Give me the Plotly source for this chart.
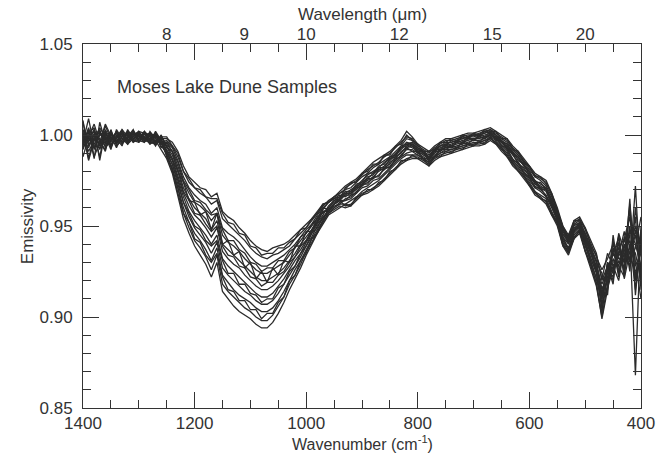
import plotly.graph_objects as go

# Wavenumber grid (cm^-1), 1400 -> 400 in 10 cm^-1 steps
wavenumber = list(range(1400, 390, -10))

# Emissivity spectra (one list per sample)
sample_01 = [1.001, 0.996, 1.003, 0.994, 1.005, 0.998, 1.001, 0.999, 1.002, 1.000, 1.002, 1.001, 1.000, 0.999, 0.998,
             0.998, 0.996, 0.991, 0.983, 0.977, 0.974, 0.971, 0.970, 0.966, 0.968, 0.958, 0.955, 0.953, 0.949, 0.946,
             0.942, 0.939, 0.937, 0.936, 0.938, 0.939, 0.940, 0.942, 0.945, 0.948, 0.951, 0.954, 0.958, 0.962,
             0.963, 0.965, 0.967,
             0.966, 0.968, 0.970, 0.973, 0.975, 0.977, 0.980, 0.982, 0.984, 0.988, 0.990, 0.994, 0.993, 0.991, 0.989,
             0.987, 0.990, 0.992, 0.993, 0.994, 0.995, 0.996, 0.997, 0.998, 0.998, 0.999, 1.000, 0.998, 0.996, 0.993,
             0.989, 0.985, 0.981, 0.978, 0.973, 0.971, 0.969, 0.962, 0.955, 0.944, 0.940, 0.948, 0.950, 0.943, 0.935, 0.926,
             0.915, 0.924, 0.935, 0.928, 0.940, 0.931, 0.948, 0.925]
sample_02 = [0.995, 1.004, 0.992, 1.001, 0.997, 1.002, 0.996, 1.001, 0.998, 1.002, 0.999, 1.000, 1.001, 0.997, 0.996,
             0.997, 0.994, 0.988, 0.980, 0.974, 0.971, 0.968, 0.966, 0.962, 0.964, 0.954, 0.951, 0.948, 0.945, 0.942,
             0.938, 0.935, 0.933, 0.932, 0.934, 0.935, 0.937, 0.939, 0.943, 0.946, 0.949, 0.953, 0.957, 0.961,
             0.964, 0.966, 0.968,
             0.970, 0.971, 0.974, 0.977, 0.979, 0.982, 0.984, 0.986, 0.988, 0.991, 0.994, 0.998, 0.997, 0.993, 0.991,
             0.989, 0.992, 0.994, 0.996, 0.996, 0.997, 0.998, 0.999, 1.000, 1.000, 1.001, 1.003, 1.000, 0.998, 0.996,
             0.992, 0.989, 0.985, 0.981, 0.977, 0.975, 0.972, 0.966, 0.958, 0.948, 0.943, 0.951, 0.953, 0.946, 0.939, 0.931,
             0.910, 0.930, 0.925, 0.941, 0.930, 0.950, 0.922, 0.940]
sample_03 = [1.008, 0.987, 0.999, 1.003, 0.993, 0.997, 1.002, 0.996, 1.001, 0.997, 1.001, 0.998, 0.997, 1.000, 0.993,
             0.996, 0.993, 0.986, 0.977, 0.971, 0.967, 0.964, 0.962, 0.957, 0.960, 0.949, 0.946, 0.944, 0.941, 0.937,
             0.933, 0.930, 0.928, 0.928, 0.930, 0.932, 0.934, 0.937, 0.940, 0.944, 0.948, 0.951, 0.956, 0.960,
             0.959, 0.962, 0.964,
             0.961, 0.962, 0.965, 0.968, 0.969, 0.971, 0.973, 0.976, 0.979, 0.982, 0.985, 0.987, 0.988, 0.988, 0.986,
             0.984, 0.987, 0.989, 0.990, 0.991, 0.992, 0.993, 0.994, 0.995, 0.995, 0.996, 0.998, 0.996, 0.992, 0.989,
             0.984, 0.981, 0.977, 0.973, 0.968, 0.966, 0.963, 0.957, 0.951, 0.940, 0.935, 0.944, 0.947, 0.937, 0.928, 0.919,
             0.899, 0.915, 0.938, 0.922, 0.944, 0.925, 0.960, 0.935]
sample_04 = [0.992, 1.001, 1.004, 0.986, 1.002, 0.993, 0.999, 1.003, 0.995, 1.001, 0.996, 1.002, 0.999, 0.994, 0.999,
             0.995, 0.991, 0.983, 0.974, 0.968, 0.963, 0.961, 0.958, 0.953, 0.957, 0.945, 0.941, 0.939, 0.936, 0.932,
             0.929, 0.926, 0.924, 0.924, 0.926, 0.928, 0.930, 0.934, 0.938, 0.942, 0.946, 0.950, 0.954, 0.959,
             0.963, 0.966, 0.969,
             0.972, 0.974, 0.976, 0.979, 0.982, 0.985, 0.987, 0.989, 0.991, 0.994, 0.997, 1.002, 0.999, 0.995, 0.993,
             0.991, 0.994, 0.996, 0.998, 0.998, 0.999, 1.000, 1.001, 1.001, 1.002, 1.003, 1.004, 1.002, 1.000, 0.998,
             0.994, 0.991, 0.987, 0.983, 0.979, 0.977, 0.975, 0.968, 0.960, 0.950, 0.945, 0.953, 0.955, 0.949, 0.942, 0.935,
             0.920, 0.928, 0.918, 0.945, 0.925, 0.940, 0.935, 0.920]
sample_05 = [0.998, 0.993, 1.001, 0.997, 0.991, 1.003, 0.994, 0.997, 1.002, 0.996, 0.998, 1.001, 0.995, 1.001, 0.997,
             0.994, 0.989, 0.981, 0.971, 0.965, 0.960, 0.957, 0.954, 0.948, 0.953, 0.940, 0.937, 0.934, 0.931, 0.928,
             0.925, 0.922, 0.920, 0.920, 0.922, 0.924, 0.927, 0.931, 0.935, 0.940, 0.944, 0.948, 0.953, 0.958,
             0.959, 0.962, 0.964,
             0.964, 0.965, 0.968, 0.971, 0.972, 0.975, 0.976, 0.979, 0.982, 0.985, 0.988, 0.990, 0.991, 0.989, 0.987,
             0.985, 0.988, 0.990, 0.992, 0.992, 0.993, 0.994, 0.995, 0.996, 0.996, 0.997, 0.999, 0.997, 0.994, 0.991,
             0.986, 0.983, 0.979, 0.975, 0.971, 0.969, 0.966, 0.960, 0.953, 0.942, 0.937, 0.946, 0.949, 0.940, 0.931, 0.922,
             0.912, 0.920, 0.930, 0.933, 0.926, 0.965, 0.912, 0.945]
sample_06 = [1.002, 0.998, 0.995, 1.000, 0.999, 0.994, 1.000, 0.995, 0.999, 1.002, 0.997, 0.996, 1.002, 0.998, 0.995,
             0.992, 0.987, 0.978, 0.968, 0.961, 0.956, 0.953, 0.949, 0.944, 0.949, 0.936, 0.932, 0.929, 0.927, 0.923,
             0.920, 0.917, 0.915, 0.915, 0.917, 0.920, 0.924, 0.928, 0.933, 0.937, 0.942, 0.947, 0.952, 0.956,
             0.961, 0.964, 0.966,
             0.968, 0.970, 0.972, 0.975, 0.978, 0.980, 0.982, 0.985, 0.987, 0.990, 0.993, 0.996, 0.995, 0.993, 0.991,
             0.988, 0.992, 0.994, 0.995, 0.996, 0.997, 0.998, 0.999, 0.999, 1.000, 1.001, 1.002, 1.000, 0.997, 0.995,
             0.991, 0.988, 0.984, 0.980, 0.975, 0.973, 0.971, 0.964, 0.957, 0.947, 0.942, 0.950, 0.952, 0.945, 0.937, 0.930,
             0.924, 0.912, 0.945, 0.925, 0.935, 0.928, 0.972, 0.918]
sample_07 = [0.994, 1.003, 0.988, 0.996, 1.006, 0.999, 0.993, 1.000, 0.996, 0.999, 1.001, 0.997, 0.996, 0.995, 1.000,
             0.991, 0.986, 0.976, 0.966, 0.958, 0.953, 0.949, 0.945, 0.940, 0.945, 0.932, 0.928, 0.925, 0.922, 0.919,
             0.916, 0.913, 0.911, 0.911, 0.913, 0.917, 0.921, 0.926, 0.931, 0.935, 0.941, 0.946, 0.951, 0.955,
             0.957, 0.959, 0.961,
             0.960, 0.961, 0.964, 0.967, 0.968, 0.970, 0.972, 0.975, 0.978, 0.981, 0.984, 0.986, 0.987, 0.987, 0.985,
             0.983, 0.986, 0.988, 0.989, 0.990, 0.991, 0.992, 0.993, 0.994, 0.994, 0.995, 0.997, 0.995, 0.991, 0.988,
             0.983, 0.980, 0.976, 0.972, 0.967, 0.965, 0.962, 0.956, 0.950, 0.939, 0.934, 0.943, 0.946, 0.936, 0.927, 0.917,
             0.900, 0.918, 0.928, 0.920, 0.938, 0.945, 0.868, 0.950]
sample_08 = [1.000, 0.991, 0.997, 1.002, 0.995, 1.001, 0.997, 0.998, 1.000, 0.996, 1.000, 0.999, 0.998, 1.000, 0.994,
             0.990, 0.984, 0.973, 0.963, 0.955, 0.949, 0.945, 0.941, 0.935, 0.941, 0.927, 0.923, 0.920, 0.917, 0.914,
             0.912, 0.909, 0.907, 0.907, 0.909, 0.913, 0.918, 0.923, 0.928, 0.933, 0.939, 0.944, 0.950, 0.954,
             0.959, 0.962, 0.964,
             0.967, 0.969, 0.971, 0.974, 0.976, 0.979, 0.981, 0.983, 0.986, 0.989, 0.992, 0.995, 0.994, 0.992, 0.990,
             0.988, 0.991, 0.993, 0.994, 0.995, 0.996, 0.997, 0.998, 0.998, 0.999, 1.000, 1.001, 0.999, 0.996, 0.994,
             0.990, 0.987, 0.983, 0.979, 0.974, 0.972, 0.970, 0.963, 0.956, 0.946, 0.941, 0.949, 0.951, 0.944, 0.936, 0.928,
             0.918, 0.926, 0.922, 0.938, 0.943, 0.955, 0.930, 0.910]
sample_09 = [0.996, 1.009, 0.994, 0.993, 1.001, 0.996, 1.002, 0.996, 0.997, 1.001, 0.998, 1.002, 0.997, 0.999, 0.996,
             0.989, 0.982, 0.971, 0.960, 0.952, 0.946, 0.942, 0.937, 0.931, 0.938, 0.923, 0.919, 0.915, 0.912, 0.910,
             0.908, 0.905, 0.903, 0.903, 0.905, 0.909, 0.914, 0.920, 0.926, 0.931, 0.937, 0.943, 0.948, 0.953,
             0.960, 0.963, 0.965,
             0.971, 0.973, 0.975, 0.978, 0.981, 0.983, 0.985, 0.988, 0.990, 0.993, 0.996, 0.999, 0.998, 0.994, 0.992,
             0.990, 0.993, 0.995, 0.997, 0.997, 0.998, 0.999, 1.000, 1.000, 1.001, 1.002, 1.003, 1.001, 0.999, 0.997,
             0.993, 0.990, 0.986, 0.982, 0.978, 0.976, 0.974, 0.967, 0.959, 0.949, 0.944, 0.952, 0.954, 0.948, 0.940, 0.933,
             0.926, 0.932, 0.940, 0.930, 0.932, 0.938, 0.950, 0.940]
sample_10 = [0.988, 0.999, 1.002, 0.998, 0.994, 1.000, 0.998, 1.002, 0.995, 0.998, 1.000, 0.996, 1.000, 0.996, 0.998,
             0.988, 0.981, 0.968, 0.957, 0.949, 0.942, 0.938, 0.933, 0.926, 0.934, 0.918, 0.914, 0.911, 0.908, 0.905,
             0.903, 0.900, 0.898, 0.898, 0.901, 0.906, 0.911, 0.918, 0.923, 0.929, 0.936, 0.941, 0.947, 0.952,
             0.957, 0.960, 0.962,
             0.965, 0.966, 0.969, 0.972, 0.974, 0.976, 0.978, 0.981, 0.983, 0.986, 0.989, 0.992, 0.992, 0.990, 0.988,
             0.986, 0.989, 0.991, 0.993, 0.993, 0.994, 0.995, 0.996, 0.997, 0.997, 0.998, 1.000, 0.998, 0.995, 0.992,
             0.987, 0.984, 0.980, 0.976, 0.972, 0.970, 0.967, 0.961, 0.954, 0.943, 0.938, 0.947, 0.950, 0.941, 0.933, 0.924,
             0.904, 0.922, 0.932, 0.928, 0.922, 0.948, 0.940, 0.928]
sample_11 = [1.003, 0.995, 0.998, 0.995, 0.998, 1.001, 0.995, 0.999, 1.001, 0.997, 0.996, 0.999, 0.995, 0.997, 0.992,
             0.987, 0.979, 0.966, 0.954, 0.946, 0.939, 0.934, 0.929, 0.922, 0.930, 0.914, 0.910, 0.906, 0.903, 0.901,
             0.899, 0.896, 0.894, 0.894, 0.897, 0.902, 0.908, 0.915, 0.921, 0.927, 0.934, 0.940, 0.946, 0.951,
             0.956, 0.958, 0.960,
             0.962, 0.964, 0.966, 0.969, 0.971, 0.973, 0.975, 0.978, 0.981, 0.984, 0.987, 0.989, 0.989, 0.989, 0.987,
             0.985, 0.988, 0.990, 0.991, 0.992, 0.993, 0.994, 0.995, 0.995, 0.996, 0.997, 0.998, 0.996, 0.993, 0.990,
             0.985, 0.982, 0.978, 0.974, 0.969, 0.967, 0.965, 0.958, 0.952, 0.941, 0.936, 0.945, 0.948, 0.939, 0.930, 0.921,
             0.908, 0.916, 0.926, 0.935, 0.930, 0.933, 0.925, 0.930]
sample_12 = [0.997, 1.002, 0.987, 1.007, 0.996, 1.000, 0.998, 0.994, 1.003, 0.998, 1.001, 0.997, 1.000, 0.996, 0.999,
             0.999, 0.994, 0.990, 0.980, 0.976, 0.971, 0.970, 0.966, 0.965, 0.965, 0.957, 0.952, 0.951, 0.946, 0.945,
             0.939, 0.938, 0.934, 0.935, 0.935, 0.938, 0.938, 0.941, 0.943, 0.948, 0.949, 0.954, 0.957, 0.962,
             0.963, 0.965, 0.966,
             0.969, 0.969, 0.973, 0.974, 0.979, 0.979, 0.983, 0.984, 0.988, 0.989, 0.994, 0.995, 0.996, 0.992, 0.991,
             0.987, 0.991, 0.994, 0.994, 0.997, 0.996, 0.999, 0.998, 1.000, 0.999, 1.002, 1.001, 1.000, 0.996, 0.995,
             0.990, 0.988, 0.983, 0.980, 0.974, 0.974, 0.970, 0.965, 0.956, 0.948, 0.941, 0.951, 0.951, 0.946, 0.936, 0.931,
             0.913, 0.927, 0.934, 0.944, 0.921, 0.936, 0.955, 0.915]
sample_13 = [1.007, 0.994, 1.000, 0.988, 1.003, 0.997, 1.001, 0.996, 0.999, 1.003, 0.996, 1.001, 0.998, 1.001, 0.995,
             0.996, 0.991, 0.985, 0.975, 0.970, 0.964, 0.963, 0.959, 0.956, 0.957, 0.948, 0.942, 0.942, 0.937, 0.935,
             0.930, 0.929, 0.925, 0.927, 0.927, 0.931, 0.931, 0.936, 0.938, 0.944, 0.946, 0.951, 0.954, 0.960,
             0.963, 0.966, 0.968,
             0.970, 0.974, 0.974, 0.979, 0.980, 0.984, 0.984, 0.989, 0.989, 0.994, 0.995, 1.000, 0.997, 0.995, 0.991,
             0.991, 0.992, 0.996, 0.996, 0.998, 0.997, 1.000, 0.999, 1.001, 1.000, 1.003, 1.002, 1.002, 0.998, 0.998,
             0.992, 0.991, 0.985, 0.983, 0.977, 0.977, 0.973, 0.968, 0.958, 0.950, 0.943, 0.953, 0.953, 0.949, 0.939, 0.934,
             0.921, 0.935, 0.928, 0.934, 0.947, 0.930, 0.938, 0.955]
sample_14 = [0.993, 0.999, 1.006, 0.996, 0.992, 1.002, 0.995, 1.002, 0.997, 0.999, 1.002, 0.998, 0.996, 1.002, 0.997,
             0.994, 0.987, 0.980, 0.969, 0.964, 0.957, 0.956, 0.951, 0.947, 0.950, 0.939, 0.934, 0.933, 0.928, 0.927,
             0.922, 0.921, 0.917, 0.919, 0.919, 0.923, 0.925, 0.930, 0.933, 0.939, 0.942, 0.948, 0.952, 0.958,
             0.958, 0.961, 0.962,
             0.962, 0.961, 0.966, 0.967, 0.970, 0.970, 0.974, 0.975, 0.980, 0.981, 0.986, 0.986, 0.989, 0.987, 0.987,
             0.983, 0.988, 0.988, 0.991, 0.990, 0.993, 0.992, 0.995, 0.994, 0.996, 0.995, 0.999, 0.995, 0.993, 0.988,
             0.985, 0.980, 0.978, 0.972, 0.969, 0.965, 0.964, 0.956, 0.952, 0.939, 0.936, 0.943, 0.948, 0.936, 0.929, 0.918,
             0.902, 0.925, 0.937, 0.940, 0.924, 0.960, 0.920, 0.938]
sample_15 = [1.001, 0.986, 0.997, 1.004, 0.999, 0.992, 1.003, 0.998, 0.995, 1.000, 0.999, 0.996, 1.001, 0.999, 0.997,
             0.991, 0.984, 0.975, 0.963, 0.957, 0.950, 0.948, 0.942, 0.939, 0.942, 0.931, 0.924, 0.924, 0.918, 0.918,
             0.913, 0.912, 0.908, 0.910, 0.910, 0.916, 0.918, 0.925, 0.928, 0.935, 0.939, 0.946, 0.949, 0.955,
             0.958, 0.962, 0.965,
             0.967, 0.967, 0.971, 0.972, 0.976, 0.976, 0.981, 0.981, 0.985, 0.987, 0.991, 0.993, 0.994, 0.990, 0.990,
             0.986, 0.991, 0.991, 0.994, 0.993, 0.996, 0.995, 0.998, 0.997, 0.999, 0.998, 1.001, 0.997, 0.997, 0.992,
             0.990, 0.984, 0.982, 0.977, 0.974, 0.970, 0.970, 0.961, 0.956, 0.943, 0.941, 0.947, 0.951, 0.942, 0.936, 0.925,
             0.916, 0.919, 0.942, 0.924, 0.939, 0.935, 0.945, 0.922]
sample_16 = [0.995, 1.003, 0.993, 1.000, 1.002, 0.995, 0.999, 1.001, 0.996, 1.002, 0.997, 0.999, 0.997, 1.001, 0.996,
             0.989, 0.980, 0.971, 0.957, 0.952, 0.943, 0.941, 0.934, 0.930, 0.935, 0.922, 0.915, 0.914, 0.909, 0.909,
             0.904, 0.904, 0.899, 0.902, 0.902, 0.908, 0.911, 0.920, 0.923, 0.931, 0.935, 0.943, 0.946, 0.953,
             0.957, 0.960, 0.963,
             0.964, 0.967, 0.968, 0.973, 0.973, 0.977, 0.977, 0.982, 0.982, 0.987, 0.988, 0.993, 0.991, 0.991, 0.987,
             0.987, 0.988, 0.992, 0.992, 0.994, 0.993, 0.996, 0.995, 0.998, 0.996, 0.999, 0.999, 0.999, 0.994, 0.993,
             0.986, 0.985, 0.979, 0.977, 0.971, 0.971, 0.966, 0.962, 0.953, 0.944, 0.937, 0.948, 0.949, 0.942, 0.932, 0.925,
             0.910, 0.929, 0.920, 0.946, 0.936, 0.942, 0.915, 0.948]
sample_17 = [0.999, 0.997, 1.003, 0.992, 1.000, 0.998, 0.996, 1.003, 0.999, 0.997, 1.002, 0.998, 1.001, 0.995, 1.000,
             0.993, 0.991, 0.980, 0.974, 0.964, 0.963, 0.956, 0.958, 0.948, 0.957, 0.940, 0.942, 0.934, 0.936, 0.927,
             0.930, 0.921, 0.925, 0.919, 0.927, 0.923, 0.931, 0.930, 0.939, 0.939, 0.947, 0.947, 0.955, 0.957,
             0.960, 0.964, 0.965,
             0.968, 0.968, 0.972, 0.973, 0.977, 0.978, 0.982, 0.982, 0.987, 0.988, 0.993, 0.994, 0.995, 0.991, 0.991,
             0.987, 0.992, 0.992, 0.995, 0.994, 0.997, 0.996, 0.999, 0.997, 1.000, 0.999, 1.002, 0.998, 0.997, 0.993,
             0.991, 0.986, 0.984, 0.978, 0.975, 0.971, 0.971, 0.962, 0.957, 0.945, 0.942, 0.948, 0.952, 0.943, 0.937, 0.927,
             0.906, 0.930, 0.924, 0.936, 0.933, 0.962, 0.928, 0.935]

samples = [sample_01, sample_02, sample_03, sample_04, sample_05, sample_06,
           sample_07, sample_08, sample_09, sample_10, sample_11, sample_12,
           sample_13, sample_14, sample_15, sample_16, sample_17]

# Axis tick definitions
wavenumber_major = [1400, 1200, 1000, 800, 600, 400]
emissivity_major = [0.85, 0.90, 0.95, 1.00, 1.05]
wavelength_ticks = [8, 9, 10, 12, 15, 20]  # micrometres

title_text = "Moses Lake Dune Samples"

ink = "#2b2b2b"
axis_col = "#333333"
font_family = "Liberation Sans, Arial, sans-serif"
fs = 17

fig = go.Figure()
for i, s in enumerate(samples):
    assert len(s) == len(wavenumber), (i, len(s))
    fig.add_trace(go.Scatter(x=wavenumber, y=s, mode="lines",
                             line=dict(color=ink, width=1.3),
                             showlegend=False, hoverinfo="skip"))

# invisible companion trace so the top (wavelength) axis is drawn
fig.add_trace(go.Scatter(x=wavenumber, y=sample_01, xaxis="x2", yaxis="y",
                         mode="lines", line=dict(width=0, color="rgba(0,0,0,0)"),
                         showlegend=False, hoverinfo="skip"))

fig.update_layout(
    width=671, height=453,
    margin=dict(l=83, r=30, t=44, b=45, autoexpand=False),
    paper_bgcolor="white", plot_bgcolor="white",
    font=dict(family=font_family, size=fs, color=axis_col),
    showlegend=False,
    xaxis=dict(
        range=[1400, 400], tickmode="array", tickvals=wavenumber_major,
        ticks="inside", ticklen=16, tickwidth=1, tickcolor=axis_col,
        minor=dict(dtick=50, tick0=400, ticks="inside", ticklen=8, tickwidth=1, tickcolor=axis_col),
        showline=True, linecolor=axis_col, linewidth=1, mirror="ticks",
        showgrid=False, zeroline=False, automargin=False,
    ),
    xaxis2=dict(
        overlaying="x", side="top", anchor="y", range=[1400, 400],
        tickmode="array",
        tickvals=[10000.0 / w for w in wavelength_ticks],
        ticktext=[str(w) for w in wavelength_ticks],
        ticks="", showline=False, showgrid=False, zeroline=False, automargin=False,
    ),
    yaxis=dict(
        range=[0.85, 1.05], tickmode="array", tickvals=emissivity_major, tickformat=".2f",
        ticks="inside", ticklen=16, tickwidth=1, tickcolor=axis_col,
        minor=dict(dtick=0.01, tick0=0.85, ticks="inside", ticklen=8, tickwidth=1, tickcolor=axis_col),
        showline=True, linecolor=axis_col, linewidth=1, mirror="ticks",
        showgrid=False, zeroline=False, ticklabelstandoff=6, automargin=False,
    ),
    annotations=[
        dict(text=title_text, xref="paper", yref="paper", x=0.057, y=0.882,
             xanchor="left", yanchor="middle", showarrow=False, font=dict(size=18)),
        dict(text="Wavenumber (cm<sup>-1</sup>)", xref="paper", yref="paper", x=0.5, y=-0.096,
             xanchor="center", yanchor="middle", showarrow=False, font=dict(size=16)),
        dict(text="Wavelength (μm)", xref="paper", yref="paper", x=0.5, y=1.0797,
             xanchor="center", yanchor="middle", showarrow=False),
        dict(text="Emissivity", xref="paper", yref="paper", x=-0.1, y=0.5, textangle=-90,
             xanchor="center", yanchor="middle", showarrow=False),
    ],
)

# Remove the browser's default 8 px page margin so the figure fills the window.
fig.write_html("out.html", config={"displayModeBar": False},
               post_script="document.body.style.margin='0';")
